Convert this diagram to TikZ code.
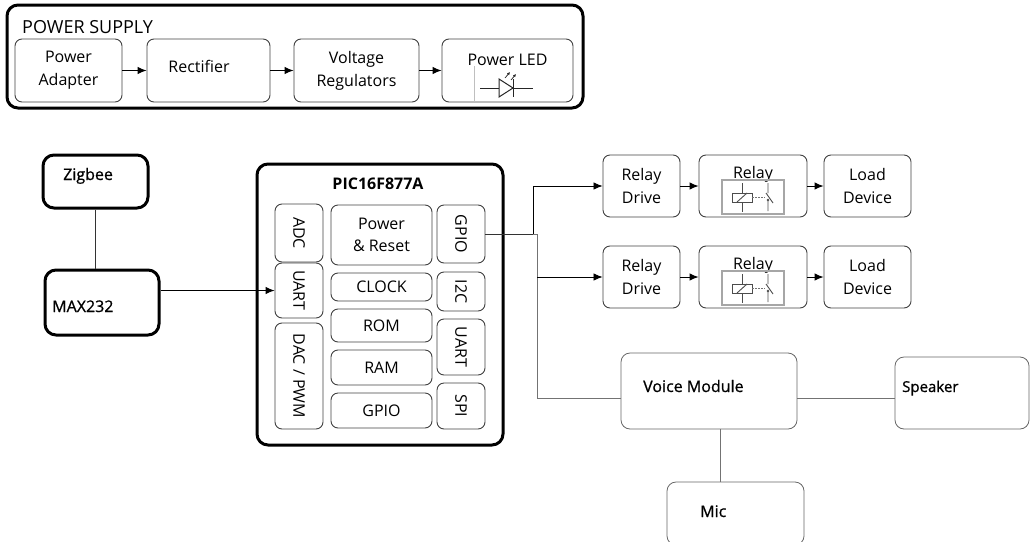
\documentclass[tikz,border=0pt]{standalone}
\usepackage{fontspec}
\setmainfont{Open Sans}
\newfontfamily\semib{Open Sans}[FakeBold=0.8]
\usepackage{graphicx}
\usepackage{tikz}
\usetikzlibrary{positioning,arrows.meta}

\tikzset{
  blk/.style={draw=black!75, line width=0.9pt, rounded corners=7pt, inner sep=0pt, align=center, font=\fontsize{16}{23}\selectfont},
  heavy/.style={draw=black, line width=3pt, rounded corners=11pt, inner sep=0pt},
  soft/.style={draw=black!60, line width=0.8pt, rounded corners=9pt, inner sep=0pt},
  txt/.style={inner sep=0pt, font=\fontsize{16}{23}\selectfont},
  semitxt/.style={inner sep=0pt, font=\semib\fontsize{16}{23}\selectfont},
  arr/.style={-{Latex[length=9pt,width=7.5pt]}, line width=1pt},
  wire/.style={line width=0.8pt, draw=black!80},
  greywire/.style={line width=0.8pt, draw=black!55},
  relaysym/.pic={
    \begin{scope}[yscale=-1]
    \draw[draw=black!35, line width=1.2pt] (0,0) rectangle (62,34);
    \draw[draw=black!70, line width=0.9pt] (10,13) rectangle (30,22);
    \draw[draw=black!70, line width=0.9pt] (15,22) -- (25,13);
    \draw[draw=black!70, line width=0.9pt] (20,3) -- (20,13) (20,22) -- (20,32);
    \draw[draw=black!55, line width=0.8pt, dash pattern=on 1.5pt off 1.5pt] (30,17) -- (43,17);
    \draw[draw=black!70, line width=0.9pt] (46,3) -- (46,13) (44,13) -- (51,23) (46,20) -- (46,31);
    \fill[black!70] (46,20) circle (1.3);
    \end{scope}
  },
}

\begin{document}
\begin{tikzpicture}[x=1pt,y=1pt,yscale=-1,xscale=1]
\useasboundingbox (0,0) rectangle (1030,541);

%Power supply
\node[heavy, minimum width=576pt, minimum height=103pt] (ps) at (295,56.5) {};
\node[txt, anchor=base west, font=\fontsize{18}{22}\selectfont] (pstitle) at (22,33) {POWER SUPPLY};
\node[blk, minimum width=107pt, minimum height=63pt] (pa) at (68.5,70.5) {Power\\Adapter};
\node[blk, minimum width=123pt, minimum height=63pt] (rect) at (208.5,70.5) {};
\node[txt, anchor=base] (recttext) at (199,72) {Rectifier};
\node[blk, minimum width=125pt, minimum height=63pt] (vreg) at (356.5,70.5) {Voltage\\Regulators};
\node[blk, minimum width=131pt, minimum height=63pt] (led) at (507.5,70.5) {};
\node[txt, anchor=base] (ledtext) at (507.5,65) {Power LED};
\draw[arr] (pa) -- (rect);
\draw[arr] (rect) -- (vreg);
\draw[arr] (vreg) -- (led);

%LED symbol
\draw[black!25, line width=0.8pt] (474,66) -- (474,102);
\draw[black!85, line width=1pt] (480,88) -- (499,88) (513,88) -- (533,88) (513,79) -- (513,97);
\draw[black!85, line width=1pt] (499,79) -- (499,97) -- (513,88) -- cycle;
\draw[black!85, line width=0.7pt, -{Latex[length=3pt,width=3pt]}] (505,78) -- (510,72);
\draw[black!85, line width=0.7pt, -{Latex[length=3pt,width=3pt]}] (511,80) -- (516,74);

%Zigbee and MAX232
\node[heavy, minimum width=105pt, minimum height=53pt] (zig) at (95.5,181.5) {};
\node[semitxt, anchor=base west] (zigtext) at (63,180) {Zigbee};
\node[heavy, minimum width=114pt, minimum height=65pt] (max) at (102,302.5) {};
\node[semitxt, anchor=base west] (maxtext) at (52,312) {MAX232};
\draw[wire] (zig.south) -- (zig.south |- max.north);

%PIC16F877A
\node[heavy, minimum width=246pt, minimum height=281pt] (pic) at (380,304.5) {};
\node[txt, anchor=base, font=\fontsize{16}{20}\bfseries] (pictitle) at (378,189) {PIC16F877A};
\node[blk, minimum width=48pt, minimum height=58pt] (adc) at (299,233) {\rotatebox{-90}{ADC}};
\node[blk, minimum width=48pt, minimum height=55pt] (uartl) at (299,290.5) {\rotatebox{-90}{UART}};
\node[blk, minimum width=48pt, minimum height=106pt] (dac) at (299,376) {\rotatebox{-90}{DAC / PWM}};
\node[blk, minimum width=101pt, minimum height=60pt, font=\fontsize{16}{22}\selectfont] (pwr) at (381.5,235) {Power\\\& Reset};
\node[blk, minimum width=101pt, minimum height=28pt] (clk) at (381.5,287) {CLOCK};
\node[blk, minimum width=101pt, minimum height=33pt] (rom) at (381.5,325.5) {ROM};
\node[blk, minimum width=101pt, minimum height=35pt] (ram) at (381.5,367.5) {RAM};
\node[blk, minimum width=101pt, minimum height=35pt] (gpiom) at (381.5,410.5) {GPIO};
\node[blk, minimum width=48pt, minimum height=58pt] (gpior) at (461,234) {\rotatebox{-90}{GPIO}};
\node[blk, minimum width=48pt, minimum height=39pt] (i2c) at (461,291.5) {\rotatebox{-90}{I2C}};
\node[blk, minimum width=48pt, minimum height=56pt] (uartr) at (461,347) {\rotatebox{-90}{UART}};
\node[blk, minimum width=48pt, minimum height=46pt] (spi) at (461,406) {\rotatebox{-90}{SPI}};
\draw[arr] (max.east |- uartl.west) -- (uartl.west);

%Relay chains
\node[blk, minimum width=77pt, minimum height=62pt] (rd1) at (641.5,186) {Relay\\Drive};
\node[blk, minimum width=108pt, minimum height=62pt] (rl1) at (753,186) {};
\node[txt, anchor=base] (rl1text) at (753,178) {Relay};
\pic at (722,180) {relaysym};
\node[blk, minimum width=87pt, minimum height=62pt] (ld1) at (867.5,186) {Load\\Device};
\node[blk, minimum width=77pt, minimum height=62pt] (rd2) at (641.5,277) {Relay\\Drive};
\node[blk, minimum width=108pt, minimum height=62pt] (rl2) at (753,277) {};
\node[txt, anchor=base] (rl2text) at (753,269) {Relay};
\pic at (722,271) {relaysym};
\node[blk, minimum width=87pt, minimum height=62pt] (ld2) at (867.5,277) {Load\\Device};
\draw[arr] (rd1) -- (rl1);
\draw[arr] (rl1) -- (ld1);
\draw[arr] (rd2) -- (rl2);
\draw[arr] (rl2) -- (ld2);

%Voice module
\node[soft, minimum width=176pt, minimum height=76pt] (voice) at (709,391) {};
\node[semitxt, anchor=base west] (voicetext) at (643,392) {Voice Module};
\node[soft, minimum width=134pt, minimum height=72pt] (spk) at (962,393) {};
\node[semitxt, anchor=base west, font=\semib\fontsize{15}{18}\selectfont] (spktext) at (902,392) {Speaker};
\node[soft, minimum width=137pt, minimum height=63pt] (mic) at (735.5,513.5) {};
\node[semitxt, anchor=base west] (mictext) at (700,517) {Mic};

%GPIO connections
\coordinate (ja) at (533,234);
\coordinate (jb) at (537,234);
\draw[wire] (gpior.east) -- (ja);
\draw[arr, line width=0.8pt] (ja) |- (rd1.west);
\draw[greywire] (ja) -- (jb) -- ([yshift=7pt]jb |- voice.west) -- ([yshift=7pt]voice.west);
\draw[arr, line width=0.8pt] (jb |- rd2.west) -- (rd2.west);
\draw[greywire] ([yshift=7pt]voice.east) -- ([yshift=7pt]voice.east -| spk.west);
\draw[greywire] ([xshift=11pt]voice.south) -- ([xshift=11pt]voice.south |- mic.north);
\end{tikzpicture}
\end{document}
